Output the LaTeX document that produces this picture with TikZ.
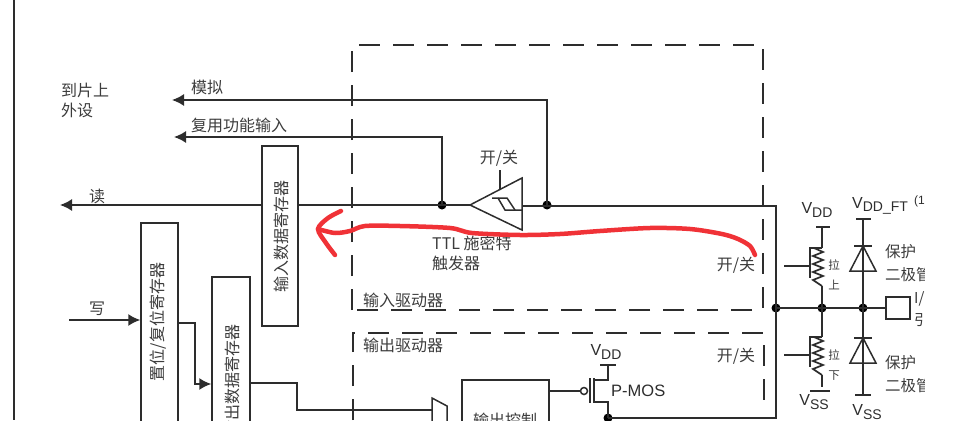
\documentclass[tikz,border=0pt]{standalone}
\usepackage{fontspec}
\setmainfont{Noto Sans CJK SC}
\newfontfamily\latinfont{Liberation Sans}
\usetikzlibrary{arrows.meta}
\definecolor{wirecol}{RGB}{45,45,45}
\definecolor{textcol}{RGB}{60,60,60}
\definecolor{redpen}{RGB}{240,50,55}
\tikzstyle{wire} = [line width=1.5pt, draw=wirecol]
\tikzstyle{arrow} = [wire, -{Latex[length=12pt,width=12pt]}]
\tikzstyle{dashbox} = [line width=1.3pt, draw=wirecol, dash pattern=on 21pt off 13pt]
\tikzstyle{regbox} = [rectangle, draw=wirecol, line width=1.5pt, fill=white, inner sep=0pt]
\tikzstyle{lbl} = [text=textcol, inner sep=0pt, font=\fontsize{16}{20}\selectfont, align=left]
\tikzstyle{small} = [text=textcol, inner sep=0pt, font=\fontsize{11.5}{20}\selectfont, align=center]
\tikzstyle{volt} = [text=wirecol, inner sep=0pt, font=\fontsize{16}{16}\selectfont\latinfont]
\tikzstyle{dot} = [circle, fill=black, inner sep=0pt, minimum size=9pt]
\newcommand{\vrail}[2]{#1\raisebox{-3.5pt}{\fontsize{14}{14}\selectfont #2}}
\tikzset{
  pullpart/.pic={
    \draw[wire] (0,0) -- (-12,0) (-12,-1) -- (-12,30) (0,38) -- (0,50);
    \draw[wire] (-38,18) -- (-12,18);
    \draw[wire, line width=1.7pt] (-8,0) -- (1,4) -- (-9,8) -- (1,12) -- (-9,16) -- (1,20) -- (-9,24) -- (1,28) -- (-9,32) -- (0,38);
  },
  diodepart/.pic={
    \draw[wire] (-9,0) -- (9,0);
    \draw[wire] (0,0) -- (-13,25) -- (13,25) -- cycle;
  }
}
\begin{document}
\begin{tikzpicture}[x=1pt, y=-1pt]
  \useasboundingbox (0,0) rectangle (954,439);
  \begin{scope}
    \clip (0,0) rectangle (924,420);
    \draw[wire] (14,0) -- (14,420);
    % dashed driver frames
    \draw[dashbox] (352,310) -- (352,45) -- (763,45) -- (763,310) -- cycle;
    \draw[dashbox] (353,420) -- (353,333) -- (764,333) -- (764,412);
    % registers
    \node (inreg) at (280,236) [regbox, minimum width=36pt, minimum height=180pt] {};
    \node (setreg) at (159.5,331) [regbox, minimum width=37pt, minimum height=216pt] {};
    \node (outreg) at (231,358) [regbox, minimum width=38pt, minimum height=162pt] {};
    \node (ctrlbox) at (505.5,415) [regbox, minimum width=87pt, minimum height=70pt] {};
    \node (inlabel) at (281,236) [lbl] {\rotatebox{90}{输入数据寄存器}};
    \node (setlabel) at (158,322) [lbl] {\rotatebox{90}{置位/复位寄存器}};
    \node (outlabel) at (232,380) [lbl] {\rotatebox{90}{输出数据寄存器}};
    \node (ctrllabel) at (505,420) [lbl] {输出控制};
    % junctions and free ends
    \coordinate (readend) at (60,205);
    \coordinate (analogend) at (172,100);
    \coordinate (altend) at (174,137);
    \coordinate (writestart) at (69,320);
    \coordinate (trigtip) at (470,205);
    \coordinate (trigout) at (522,206);
    \coordinate (trigen) at (500,170);
    \coordinate (trigenb) at (500,190);
    \coordinate (busright) at (776,206);
    \coordinate (busbot) at (776,418);
    \coordinate (padnode) at (776,308);
    \coordinate (pullnode) at (822,308);
    \coordinate (clampnode) at (863,308);
    \node (altdot) at (442,205) [dot] {};
    \node (analogdot) at (547,205) [dot] {};
    \node (paddot) at (776,308) [dot] {};
    \node (pulldot) at (822,308) [dot] {};
    \node (clampdot) at (863,308) [dot] {};
    \node (pmosdot) at (608,418) [dot] {};
    \node (pad) at (898,308) [regbox, minimum width=24pt, minimum height=22pt] {};
    % input path
    \draw[arrow] (analogdot.center) |- (analogend);
    \draw[arrow] (altdot.center) |- (altend);
    \draw[wire] (trigtip) -- (inreg.east |- trigtip);
    \draw[arrow] (inreg.west |- trigtip) -- (readend);
    \draw[wire] (trigout) -- (busright) -- (busbot) -- (pmosdot.center);
    \draw[wire] (trigtip) -- (522,178) -- (522,230) -- cycle;
    \draw[wire] (trigen) -- (trigenb);
    \draw[wire] (492,198) -- (507,198) -- (515,210) -- (522,210);
    \draw[wire] (498,198) -- (505,210) -- (515,210);
    % write path
    \draw[arrow] (writestart) -- (setreg.west |- writestart);
    \draw[arrow] (setreg.east |- 0,323) -- (195,323) -- (195,384) -- (outreg.west |- 0,384);
    \draw[wire] (outreg.east |- 0,383) -- (297,383) -- (297,410) -- (432,410);
    \draw[wire] (432,425) -- (432,398) -- (447,406) -- (447,425);
    % output stage
    \draw[wire] (ctrlbox.east |- 0,391) -- (581,391);
    \draw[wire, fill=white] (584,391) circle (3.5);
    \draw[wire] (590,378) -- (590,403) (594,378) -- (594,403);
    \draw[wire] (600,365) -- (616,365) (608,365) -- (608,380) -- (594,380);
    \draw[wire] (594,402) -- (608,402) -- (pmosdot.center);
    % pad side
    \draw[wire] (padnode) -- (pad.west);
    \draw[wire] (pullnode) -- (822,286);
    \draw[wire] (822,227) -- (822,248);
    \draw[wire] (816,227) -- (830,227);
    \path (822,248) pic {pullpart};
    \draw[wire] (pullnode) -- (822,337);
    \path (822,337) pic {pullpart};
    \draw[wire] (810,391) -- (830,391);
    \draw[wire] (856,219) -- (871,219) (863,219) -- (clampnode);
    \path (863,246) pic[fill=white] {diodepart};
    \draw[wire] (clampnode) -- (863,395) (855,395) -- (871,395);
    \path (863,338) pic {diodepart};
    % labels
    \node (periph) at (61,100.5) [lbl, anchor=west] {到片上\\外设};
    \node (analoglbl) at (191,87) [lbl, anchor=west] {模拟};
    \node (altlbl) at (191,125) [lbl, anchor=west] {复用功能输入};
    \node (readlbl) at (89,196) [lbl, anchor=west] {读};
    \node (writelbl) at (89,309) [lbl, anchor=west] {写};
    \node (enlbl) at (499,158) [lbl] {开/关};
    \node (ttllbl) at (432,253) [lbl, anchor=west] {TTL 施密特\\触发器};
    \node (indrv) at (363,300) [lbl, anchor=west] {输入驱动器};
    \node (outdrv) at (363,345) [lbl, anchor=west] {输出驱动器};
    \node (enlblb) at (736,265) [lbl] {开/关};
    \node (enlblc) at (736,356) [lbl] {开/关};
    \node (upa) at (834,275) [small] {拉\\上};
    \node (downa) at (834,365) [small] {拉\\下};
    \node (protecta) at (885,263.5) [lbl, anchor=west, font=\fontsize{15.5}{23}\selectfont] {保护\\二极管};
    \node (protectb) at (885,374) [lbl, anchor=west, font=\fontsize{15.5}{23}\selectfont] {保护\\二极管};
    \node (padlbl) at (914,309) [lbl, anchor=west, font=\fontsize{15}{22}\selectfont] {I/O\\引脚};
    \node (vdda) at (817,210) [volt] {\vrail{V}{DD}};
    \node (vddb) at (606,352) [volt] {\vrail{V}{DD}};
    \node (vddft) at (852,206) [volt, anchor=west] {\vrail{V}{DD\_FT}};
    \node (fnote) at (914,201) [volt, anchor=west, font=\fontsize{12}{12}\selectfont\latinfont] {(1)};
    \node (vssa) at (814,402) [volt] {\vrail{V}{SS}};
    \node (vssb) at (867,412) [volt] {\vrail{V}{SS}};
    \node (pmoslbl) at (611,391) [volt, anchor=west, font=\fontsize{16.5}{16}\selectfont\latinfont] {P-MOS};
    % red pen stroke
    \draw[redpen, line width=4.5pt, line cap=round, line join=round]
      plot[smooth, tension=0.5] coordinates {(755,255) (750,246) (738,239) (722,234) (690,229) (650,228) (600,231) (560,234) (520,235) (472,233) (450,228) (400,226) (365,226) (350,231) (335,233) (318,229)};
    \draw[redpen, line width=4.5pt, line cap=round, line join=round]
      plot[smooth, tension=0.5] coordinates {(341,211) (328,218) (318,229) (326,243) (335,255)};
  \end{scope}
\end{tikzpicture}
\end{document}
